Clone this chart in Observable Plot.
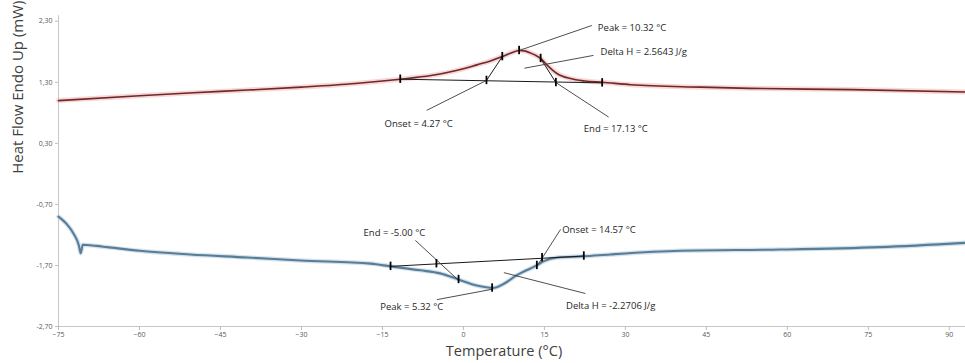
<!DOCTYPE html>
<html>
<head>
<meta charset="utf-8">
<script src="https://cdn.jsdelivr.net/npm/d3@7"></script>
<script src="https://cdn.jsdelivr.net/npm/@observablehq/plot@0.6"></script>
<style>
  html, body { margin: 0; padding: 0; background: #fff; }
  #chart svg { display: block; }
</style>
</head>
<body>
<div id="chart"></div>
<script>
// ---- data (temperature °C, heat flow mW) ----
const heatT = [-75,-60,-45,-30,-20,-15,-11.7,-6,0,2.5,5,7.2,8.8,10.3,11.5,12.4,13.4,14.3,15.5,16.5,17.4,19.8,22.5,25.7,31,44,53,72,93];
const heatV = [1.00,1.08,1.15,1.22,1.28,1.32,1.35,1.41,1.52,1.585,1.65,1.72,1.78,1.82,1.81,1.78,1.74,1.69,1.58,1.50,1.44,1.36,1.32,1.30,1.26,1.22,1.20,1.18,1.14];

const coolT = [-75,-73.5,-72.2,-71.2,-70.9,-70.5,-68,-66,-60,-50.6,-40,-30.2,-17.2,-13.5,-8,-4.3,-0.9,2.5,5.5,7.5,9.9,12.4,13.6,14.9,17.4,22.3,27.2,40.2,58.7,77.2,93];
const coolV = [-0.90,-1.02,-1.18,-1.38,-1.50,-1.36,-1.38,-1.40,-1.46,-1.52,-1.57,-1.62,-1.67,-1.715,-1.78,-1.83,-1.93,-2.03,-2.07,-2.00,-1.86,-1.75,-1.70,-1.63,-1.57,-1.55,-1.52,-1.46,-1.44,-1.40,-1.33];

// tick labels
const xTicks = [-75,-60,-45,-30,-15,0,15,30,45,60,75,90];
const yTicks = [2.3,1.3,0.3,-0.7,-1.7,-2.7];

// annotation markers (T, value)
const markT = [-11.7, 4.27, 7.2, 10.32, 14.3, 17.13, 25.7,   -13.5, -5.0, -0.9, 5.32, 13.6, 14.57, 22.3];
const markV = [1.35, 1.33, 1.72, 1.82, 1.69, 1.295, 1.29,   -1.715, -1.672, -1.93, -2.07, -1.70, -1.575, -1.546];

// annotation segments: [T1, V1, T2, V2]
const baseSegs = [
  [-11.7, 1.35, 25.7, 1.29],
  [4.27, 1.33, 7.2, 1.72],
  [14.3, 1.69, 17.13, 1.295],
  [-13.5, -1.715, 22.3, -1.546]
];
const leaderSegs = [
  [-6.8, 0.84, 4.27, 1.33],
  [17.13, 1.295, 26.9, 0.73],
  [10.32, 1.82, 23.8, 2.23],
  [11.3, 1.53, 24.1, 1.74],
  [-8.9, -1.29, -0.9, -1.944],
  [18.0, -1.11, 13.6, -1.715],
  [-4.9, -2.26, 5.32, -2.09],
  [7.5, -1.818, 22.6, -2.16]
];

// annotation labels
const labelText = ["Peak = 10.32 °C", "Delta H = 2.5643 J/g", "Onset = 4.27 °C", "End = 17.13 °C",
                   "End = -5.00 °C", "Onset = 14.57 °C", "Peak = 5.32 °C", "Delta H = -2.2706 J/g"];
const labelT = [24.9, 25.4, -14.6, 22.3, -18.5, 18.3, -15.4, 19.0];
const labelV = [2.185, 1.79, 0.61, 0.53, -1.16, -1.125, -2.38, -2.36];

// ---- build tables ----
const heat = heatT.map((t, i) => ({t, v: heatV[i]}));
const cool = coolT.map((t, i) => ({t, v: coolV[i]}));
const marks = markT.map((t, i) => ({t, v: markV[i]}));
const segs = s => s.map(([t1, v1, t2, v2]) => ({t1, v1, t2, v2}));
const labels = labelText.map((text, i) => ({text, t: labelT[i], v: labelV[i]}));
const unitPx = 61.06; // px per mW, used to size the marker ticks
const half = 4.2 / unitPx;

const fmt = d => d.toFixed(2).replace(".", ",");

const chart = Plot.plot({
  width: 965,
  height: 363,
  marginLeft: 58,
  marginRight: 0,
  marginTop: 20.7,
  marginBottom: 37,
  style: {fontFamily: "'Open Sans', sans-serif", background: "#fff"},
  x: {domain: [-75, 93], axis: null},
  y: {domain: [-2.7, 2.3], axis: null},
  marks: [
    // axes lines
    Plot.ruleX([-75], {y1: -2.7, y2: 2.39, stroke: "#c6c6c6", strokeWidth: 1}),
    Plot.ruleY([-2.7], {x1: -75, x2: 93, stroke: "#c6c6c6", strokeWidth: 1}),
    Plot.axisY(yTicks, {tickSize: 3, tickPadding: 3, tickFormat: fmt, fontSize: 7, stroke: "#bdbdbd", fill: "#595959", label: null}),
    Plot.axisX(xTicks, {tickSize: 4, tickPadding: 2, fontSize: 7, stroke: "#bdbdbd", fill: "#595959", label: null}),
    // axis titles
    Plot.text(["Heat Flow Endo Up (mW)"], {frameAnchor: "left", dx: -40, rotate: -90, fontSize: 15, fill: "#404040"}),
    Plot.text(["Temperature (°C)"], {frameAnchor: "bottom", dy: 29, dx: -8, fontSize: 14.5, fill: "#404040"}),
    // curves with glow
    Plot.line(heat, {x: "t", y: "v", curve: "monotone-x", stroke: "#f2bcbc", strokeWidth: 5, strokeOpacity: 0.6}),
    Plot.line(heat, {x: "t", y: "v", curve: "monotone-x", stroke: "#6e2828", strokeWidth: 1.6}),
    Plot.line(cool, {x: "t", y: "v", curve: "monotone-x", stroke: "#c3d5e3", strokeWidth: 4.5, strokeOpacity: 0.7}),
    Plot.line(cool, {x: "t", y: "v", curve: "monotone-x", stroke: "#587d99", strokeWidth: 2.1}),
    // annotation lines
    Plot.link(segs(baseSegs), {x1: "t1", y1: "v1", x2: "t2", y2: "v2", stroke: "#1a1a1a", strokeWidth: 1}),
    Plot.link(segs(leaderSegs), {x1: "t1", y1: "v1", x2: "t2", y2: "v2", stroke: "#3a3a3a", strokeWidth: 0.9}),
    Plot.ruleX(marks, {x: "t", y1: d => d.v - half, y2: d => d.v + half, stroke: "#000", strokeWidth: 1.8}),
    // labels
    Plot.text(labels, {x: "t", y: "v", text: "text", textAnchor: "start", fontSize: 9.5, fill: "#262626"})
  ]
});
document.getElementById("chart").appendChild(chart);
</script>
</body>
</html>
